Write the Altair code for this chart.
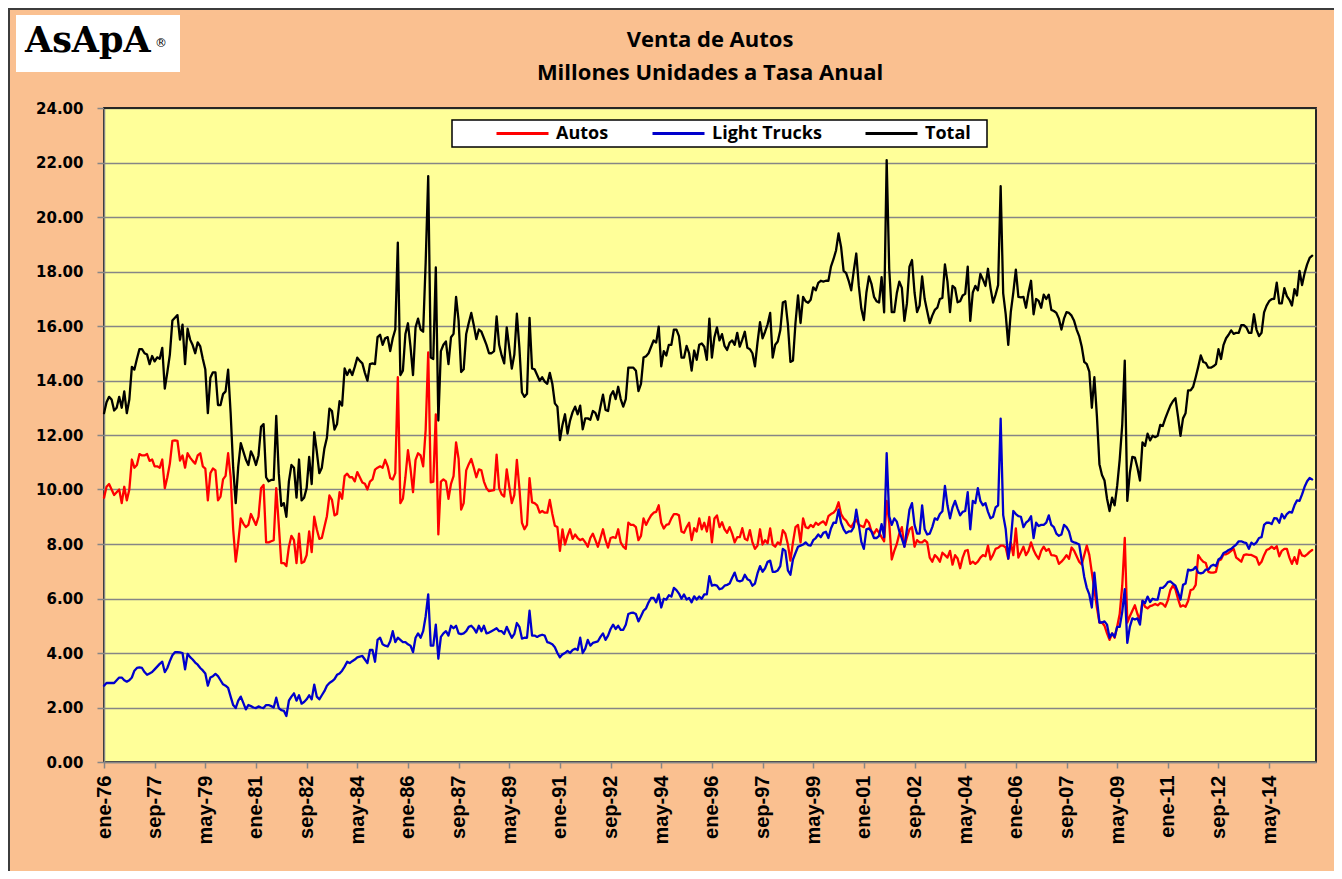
import altair as alt
import pandas as pd

# Monthly data, ene-1976 ... oct-2015 (millones de unidades, tasa anual)
autos = [
    9.7, 10.1, 10.2, 10.0, 9.8, 9.9, 10.0, 9.5, 10.1, 9.6, 10.0, 11.1,            # 1976
    10.8, 10.9, 11.3, 11.25, 11.25, 11.3, 11.05, 11.1, 10.85, 10.85, 10.8, 11.1,  # 1977
    10.05, 10.45, 10.95, 11.78, 11.8, 11.78, 11.06, 11.25, 10.8, 11.33, 11.17, 11.05,  # 1978
    10.95, 11.25, 11.33, 10.85, 10.77, 9.6, 10.6, 10.77, 10.7, 9.6, 9.74, 10.37,  # 1979
    10.5, 11.33, 10.45, 8.54, 7.35, 8.06, 8.94, 8.75, 8.62, 8.7, 9.1, 8.9,        # 1980
    8.7, 9.0, 10.05, 10.17, 8.06, 8.06, 8.1, 8.14, 10.05, 8.7, 7.3, 7.3,          # 1981
    7.19, 7.9, 8.3, 8.14, 7.3, 8.38, 7.3, 7.35, 7.59, 8.46, 7.7, 9.0,             # 1982
    8.54, 8.19, 8.22, 8.62, 9.02, 9.78, 9.62, 9.05, 9.1, 9.9, 9.66, 10.49,        # 1983
    10.58, 10.45, 10.45, 10.3, 10.64, 10.45, 10.26, 10.21, 10.0, 10.29, 10.37, 10.73,  # 1984
    10.8, 10.85, 10.8, 11.09, 10.85, 10.42, 10.37, 10.6, 14.12, 9.5, 9.66, 10.45,  # 1985
    11.44, 10.77, 9.9, 11.09, 11.33, 11.25, 10.85, 12.2, 15.03, 10.26, 10.29, 12.76,  # 1986
    8.35, 10.29, 10.37, 10.3, 9.66, 10.21, 10.49, 11.73, 11.12, 9.26, 9.5, 10.7,  # 1987
    10.93, 11.12, 10.8, 10.45, 10.74, 10.7, 10.29, 10.05, 9.94, 9.96, 9.98, 11.28,  # 1988
    10.05, 9.82, 9.74, 10.74, 10.1, 9.5, 9.8, 11.09, 10.05, 8.78, 8.54, 8.7,      # 1989
    10.42, 9.53, 9.5, 9.42, 9.15, 9.21, 9.15, 9.15, 9.62, 9.1, 8.67, 8.62,        # 1990
    7.75, 8.54, 7.98, 8.3, 8.54, 8.19, 8.35, 8.22, 8.14, 8.19, 8.06, 7.9,         # 1991
    8.22, 8.38, 8.14, 7.9, 8.22, 8.54, 8.14, 7.87, 8.22, 8.25, 8.22, 8.54,        # 1992
    8.06, 7.9, 7.82, 8.78, 8.7, 8.7, 8.62, 8.14, 8.3, 8.94, 8.7, 8.89,           # 1993
    9.05, 9.15, 9.18, 9.42, 8.78, 8.57, 8.7, 8.73, 8.94, 9.1, 9.1, 9.05,          # 1994
    8.46, 8.41, 8.62, 8.78, 8.14, 8.58, 8.46, 8.94, 8.54, 8.78, 8.46, 8.99,       # 1995
    8.06, 8.94, 9.05, 8.62, 8.8, 8.54, 8.41, 8.62, 8.38, 8.06, 8.25, 8.25,        # 1996
    8.58, 8.19, 8.14, 8.51, 8.06, 7.82, 7.94, 8.54, 7.98, 8.14, 8.03, 8.57,       # 1997
    7.98, 7.9, 8.06, 7.98, 8.51, 8.38, 7.98, 7.39, 8.06, 8.62, 8.7, 8.06,         # 1998
    8.94, 8.62, 8.58, 8.7, 8.62, 8.78, 8.7, 8.78, 8.83, 8.7, 9.02, 9.1,           # 1999
    9.15, 9.26, 9.53, 9.1, 8.94, 8.86, 8.7, 8.62, 8.78, 8.89, 8.7, 8.66,          # 2000
    8.62, 8.89, 8.78, 8.46, 8.38, 8.54, 8.41, 8.25, 8.1, 9.58, 8.78, 7.43,        # 2001
    7.75, 8.0, 8.38, 8.62, 7.9, 8.25, 8.54, 8.62, 7.9, 8.14, 8.06, 8.06,          # 2002
    8.14, 8.06, 7.5, 7.35, 7.59, 7.5, 7.35, 7.68, 7.59, 7.5, 7.75, 7.24,          # 2003
    7.59, 7.47, 7.11, 7.5, 7.75, 7.78, 7.27, 7.35, 7.27, 7.35, 7.5, 7.59,         # 2004
    7.55, 7.94, 7.43, 7.6, 7.82, 7.86, 7.94, 7.94, 7.87, 7.46, 8.06, 7.59,        # 2005
    8.57, 7.5, 7.7, 7.9, 7.59, 7.75, 8.06, 7.78, 7.59, 7.45, 7.75, 7.9,           # 2006
    7.75, 7.82, 7.59, 7.58, 7.55, 7.27, 7.35, 7.46, 7.59, 7.46, 7.87, 7.75,       # 2007
    7.55, 7.35, 7.25, 7.59, 7.94, 7.6, 6.95, 6.31, 5.67, 5.12, 5.12, 5.0,         # 2008
    4.72, 4.48, 4.72, 4.56, 4.96, 5.43, 6.47, 8.22, 5.12, 5.35, 5.55, 5.75,       # 2009
    5.43, 5.2, 5.91, 5.7, 5.64, 5.72, 5.75, 5.8, 5.75, 5.83, 5.8, 5.7,            # 2010
    5.93, 6.31, 6.47, 6.34, 5.99, 5.7, 5.75, 5.7, 5.91, 6.31, 6.34, 6.5,          # 2011
    7.59, 7.45, 7.35, 7.3, 6.98, 6.95, 6.95, 6.98, 7.39, 7.43, 7.62, 7.62,        # 2012
    7.67, 7.75, 7.82, 7.5, 7.43, 7.35, 7.59, 7.62, 7.6, 7.6, 7.55, 7.5,           # 2013
    7.24, 7.35, 7.59, 7.78, 7.82, 7.9, 7.82, 7.92, 7.55, 7.75, 7.82, 7.82,        # 2014
    7.5, 7.27, 7.52, 7.27, 7.78, 7.58, 7.55, 7.62, 7.71, 7.78,                    # 2015
]

light_trucks = [
    2.8, 2.9, 2.9, 2.9, 2.9, 3.0, 3.1, 3.1, 3.0, 2.95, 3.0, 3.1,                  # 1976
    3.35, 3.45, 3.47, 3.45, 3.3, 3.2, 3.25, 3.3, 3.4, 3.5, 3.6, 3.68,             # 1977
    3.3, 3.45, 3.7, 3.92, 4.03, 4.03, 4.02, 4.0, 3.4, 3.97, 3.85, 3.76,           # 1978
    3.65, 3.57, 3.45, 3.36, 3.25, 2.8, 3.1, 3.15, 3.23, 3.15, 3.0, 2.85,          # 1979
    2.8, 2.72, 2.4, 2.09, 1.98, 2.25, 2.4, 2.17, 1.93, 2.09, 2.05, 2.0,           # 1980
    1.98, 2.04, 2.0, 1.98, 2.09, 2.09, 2.05, 2.0, 2.36, 1.98, 1.9, 1.88,          # 1981
    1.69, 2.25, 2.4, 2.52, 2.25, 2.45, 2.14, 2.2, 2.3, 2.45, 2.3, 2.84,           # 1982
    2.4, 2.3, 2.45, 2.6, 2.8, 2.9, 2.96, 3.04, 3.2, 3.25, 3.35, 3.5,              # 1983
    3.68, 3.63, 3.7, 3.76, 3.84, 3.87, 3.89, 3.76, 3.63, 4.11, 4.11, 3.68,        # 1984
    4.48, 4.56, 4.32, 4.27, 4.24, 4.43, 4.8, 4.4, 4.56, 4.48, 4.4, 4.4,           # 1985
    4.32, 4.27, 4.03, 4.56, 4.72, 4.56, 4.8, 5.35, 6.15, 4.27, 4.27, 5.04,        # 1986
    3.79, 4.59, 4.72, 4.8, 4.64, 5.0, 4.91, 5.0, 4.72, 4.69, 4.72, 4.8,           # 1987
    4.96, 5.0, 4.9, 4.75, 5.0, 4.8, 5.0, 4.72, 4.75, 4.8, 4.85, 4.91,             # 1988
    4.8, 4.8, 4.7, 4.96, 4.75, 4.56, 4.7, 5.1, 4.96, 4.53, 4.56, 4.56,            # 1989
    5.55, 4.64, 4.64, 4.59, 4.64, 4.67, 4.64, 4.4, 4.37, 4.32, 4.21, 4.0,         # 1990
    3.84, 3.95, 4.0, 4.08, 4.0, 4.11, 4.16, 4.11, 4.56, 4.0, 4.16, 4.48,          # 1991
    4.27, 4.37, 4.4, 4.43, 4.59, 4.72, 4.48, 4.64, 4.88, 5.04, 4.88, 5.0,         # 1992
    4.85, 4.85, 5.04, 5.43, 5.47, 5.48, 5.43, 5.16, 5.35, 5.55, 5.64, 5.86,       # 1993
    6.02, 6.02, 5.86, 6.15, 5.67, 5.99, 5.96, 6.12, 6.07, 6.39, 6.31, 6.18,       # 1994
    5.99, 6.15, 5.96, 6.02, 5.86, 6.08, 5.96, 6.07, 5.99, 6.15, 6.15, 6.82,       # 1995
    6.47, 6.5, 6.47, 6.34, 6.37, 6.47, 6.5, 6.55, 6.76, 6.95, 6.66, 6.63,         # 1996
    6.66, 6.87, 6.71, 6.66, 6.47, 6.55, 6.92, 7.19, 6.98, 7.11, 7.35, 7.39,       # 1997
    6.98, 6.98, 7.03, 7.19, 7.82, 7.75, 7.03, 6.87, 7.43, 7.67, 7.9, 7.94,        # 1998
    7.98, 8.06, 7.96, 7.94, 8.14, 8.22, 8.35, 8.25, 8.41, 8.45, 8.22, 8.57,       # 1999
    8.78, 8.78, 9.26, 8.78, 8.54, 8.4, 8.46, 8.46, 8.62, 9.26, 8.7, 8.08,         # 2000
    7.82, 8.54, 8.57, 8.46, 8.22, 8.22, 8.3, 8.73, 8.25, 11.33, 9.02, 8.7,        # 2001
    8.94, 8.82, 8.46, 8.2, 7.9, 8.54, 9.26, 9.5, 8.7, 8.38, 8.38, 9.42,           # 2002
    8.54, 8.35, 8.38, 8.62, 8.94, 8.89, 9.1, 9.2, 10.13, 9.42, 8.94, 9.34,        # 2003
    9.58, 9.3, 9.05, 9.18, 9.21, 9.9, 8.54, 9.58, 9.5, 10.05, 9.58, 9.42,         # 2004
    9.5, 9.18, 8.94, 9.0, 9.34, 9.42, 12.6, 9.06, 8.54, 7.46, 8.14, 9.21,         # 2005
    9.1, 9.02, 9.0, 8.62, 8.78, 8.86, 9.02, 8.22, 8.78, 8.66, 8.7, 8.7,           # 2006
    8.78, 9.05, 8.7, 8.62, 8.38, 8.3, 8.35, 8.7, 8.62, 8.46, 8.1, 8.06,           # 2007
    8.03, 7.98, 7.4, 6.79, 6.39, 6.15, 5.67, 6.95, 5.99, 5.12, 5.12, 5.16,        # 2008
    5.04, 4.56, 4.72, 4.59, 4.96, 4.96, 5.51, 6.34, 4.37, 4.96, 5.27, 5.23,       # 2009
    5.27, 5.04, 5.91, 5.83, 6.07, 5.87, 5.99, 5.96, 5.96, 6.39, 6.39, 6.47,       # 2010
    6.6, 6.63, 6.55, 6.47, 6.23, 5.96, 6.5, 6.55, 7.06, 7.03, 7.06, 7.16,         # 2011
    6.95, 6.92, 6.95, 7.06, 7.06, 7.19, 7.24, 7.19, 7.43, 7.5, 7.67, 7.71,        # 2012
    7.78, 7.82, 7.9, 7.98, 8.1, 8.1, 8.06, 8.03, 7.82, 8.05, 7.98, 8.06,          # 2013
    8.22, 8.25, 8.7, 8.78, 8.78, 8.73, 8.95, 8.94, 8.78, 9.1, 8.94, 9.1,          # 2014
    9.18, 9.15, 9.42, 9.6, 9.58, 9.82, 10.1, 10.3, 10.42, 10.37,                  # 2015
]

total = [
    12.8, 13.2, 13.4, 13.3, 12.9, 13.0, 13.4, 13.0, 13.6, 12.8, 13.3, 14.5,       # 1976
    14.4, 14.8, 15.15, 15.15, 15.0, 14.95, 14.6, 14.9, 14.7, 14.85, 14.8, 15.2,   # 1977
    13.7, 14.3, 14.95, 16.2, 16.3, 16.4, 15.5, 16.05, 14.6, 15.9, 15.5, 15.3,     # 1978
    15.0, 15.4, 15.25, 14.8, 14.4, 12.8, 14.1, 14.3, 14.3, 13.1, 13.1, 13.5,      # 1979
    13.6, 14.4, 12.8, 10.8, 9.5, 10.85, 11.7, 11.4, 11.1, 10.9, 11.4, 11.2,       # 1980
    10.9, 11.25, 12.3, 12.4, 10.45, 10.3, 10.35, 10.35, 12.7, 10.6, 9.4, 9.5,     # 1981
    9.0, 10.3, 10.9, 10.8, 9.7, 11.1, 9.6, 9.7, 10.05, 11.2, 10.2, 12.1,          # 1982
    11.4, 10.6, 10.8, 11.5, 11.9, 12.97, 12.88, 12.2, 12.4, 13.24, 13.08, 14.44,  # 1983
    14.2, 14.4, 14.2, 14.5, 14.84, 14.72, 14.63, 14.28, 13.99, 14.6, 14.63, 14.6,  # 1984
    15.59, 15.68, 15.31, 15.55, 15.59, 15.08, 15.55, 15.87, 19.06, 14.2, 14.36, 15.71,  # 1985
    16.1, 15.24, 14.2, 15.95, 16.27, 15.87, 15.79, 18.34, 21.5, 14.84, 14.79, 18.15,  # 1986
    12.53, 15.08, 15.31, 15.43, 14.6, 15.59, 15.71, 17.07, 16.19, 14.31, 14.41, 15.71,  # 1987
    16.11, 16.48, 16.03, 15.52, 15.87, 15.79, 15.55, 15.31, 15.0, 15.0, 15.08, 16.35,  # 1988
    15.31, 14.92, 14.63, 15.95, 15.2, 14.44, 14.95, 16.45, 15.2, 13.56, 13.4, 13.51,  # 1989
    16.3, 14.44, 14.41, 14.2, 13.99, 14.12, 13.96, 13.88, 14.28, 13.88, 13.16, 13.04,  # 1990
    11.81, 12.37, 12.76, 12.05, 12.53, 12.84, 13.04, 12.76, 13.08, 12.21, 12.61, 12.61,  # 1991
    12.56, 12.88, 12.81, 12.56, 13.04, 13.48, 12.92, 12.88, 13.45, 13.61, 13.32, 13.77,  # 1992
    13.32, 13.04, 13.32, 14.47, 14.47, 14.47, 14.36, 13.61, 13.88, 14.84, 14.89, 15.0,  # 1993
    15.24, 15.47, 15.39, 15.98, 14.52, 15.08, 14.92, 15.31, 15.31, 15.87, 15.87, 15.63,  # 1994
    14.84, 14.84, 15.27, 15.0, 14.36, 15.1, 14.76, 15.31, 15.36, 15.24, 14.76, 16.27,  # 1995
    14.84, 15.59, 15.95, 15.47, 15.7, 15.27, 15.12, 15.39, 15.47, 15.31, 15.75, 15.24,  # 1996
    15.5, 15.79, 15.2, 15.15, 15.0, 14.52, 15.39, 16.14, 15.55, 15.79, 16.06, 16.48,  # 1997
    14.84, 15.31, 15.43, 15.84, 16.86, 16.91, 16.06, 14.68, 14.73, 16.11, 17.12, 16.11,  # 1998
    17.07, 16.91, 16.85, 16.96, 17.42, 17.31, 17.58, 17.66, 17.63, 17.66, 17.66, 18.18,  # 1999
    18.45, 18.77, 19.4, 18.9, 18.02, 17.94, 17.66, 17.31, 18.02, 18.66, 17.47, 16.63,  # 2000
    16.22, 17.23, 17.82, 17.55, 17.07, 16.91, 16.86, 17.79, 16.5, 22.09, 18.1, 16.51,  # 2001
    16.51, 17.2, 17.63, 17.4, 16.19, 16.83, 18.18, 18.42, 17.23, 16.51, 16.75, 17.82,  # 2002
    16.99, 16.54, 16.11, 16.38, 16.59, 16.67, 16.99, 17.03, 18.26, 17.63, 16.51, 17.47,  # 2003
    17.39, 16.87, 16.91, 17.12, 17.18, 18.18, 16.19, 17.23, 17.47, 17.31, 17.91, 17.71,  # 2004
    17.47, 18.1, 17.39, 16.86, 17.15, 17.5, 21.13, 17.2, 16.43, 15.31, 16.51, 17.23,  # 2005
    18.07, 17.07, 17.05, 17.07, 16.67, 17.23, 17.66, 16.43, 16.99, 16.92, 16.67, 17.15,  # 2006
    16.99, 17.15, 16.59, 16.55, 16.48, 16.27, 15.87, 16.27, 16.51, 16.48, 16.38, 16.19,  # 2007
    15.87, 15.63, 15.25, 14.68, 14.6, 14.33, 13.0, 14.12, 12.69, 10.93, 10.53, 10.33,  # 2008
    9.66, 9.21, 9.7, 9.42, 10.13, 11.1, 12.37, 14.73, 9.58, 10.61, 11.2, 11.17,   # 2009
    10.8, 10.33, 11.73, 11.6, 12.05, 11.8, 11.97, 11.92, 11.97, 12.37, 12.33, 12.61,  # 2010
    12.85, 13.08, 13.24, 13.35, 12.69, 11.97, 12.61, 12.8, 13.64, 13.64, 13.77, 14.12,  # 2011
    14.5, 14.92, 14.68, 14.64, 14.47, 14.47, 14.52, 14.6, 15.15, 14.79, 15.31, 15.55,  # 2012
    15.68, 15.84, 15.71, 15.75, 15.75, 16.03, 16.03, 15.95, 15.75, 15.75, 16.43, 15.87,  # 2013
    15.63, 15.75, 16.5, 16.75, 16.91, 16.99, 17.0, 17.59, 16.83, 16.83, 17.39, 17.1,  # 2014
    16.96, 16.75, 17.35, 17.12, 18.02, 17.5, 17.94, 18.26, 18.5, 18.58,           # 2015
]

series_names = ["Autos", "Light Trucks", "Total"]
series_colors = ["#FF0000", "#0000CC", "#000000"]
tick_labels = ["ene-76", "sep-77", "may-79", "ene-81", "sep-82", "may-84", "ene-86",
               "sep-87", "may-89", "ene-91", "sep-92", "may-94", "ene-96", "sep-97",
               "may-99", "ene-01", "sep-02", "may-04", "ene-06", "sep-07", "may-09",
               "ene-11", "sep-12", "may-14"]
tick_step = 20  # months between category labels
title_lines = ["Venta de Autos", "Millones Unidades a Tasa Anual"]
logo_text = "AsApA"
y_ticks = list(range(0, 25, 2))

# ---- build long table
rows = []
for name, vals in zip(series_names, [autos, light_trucks, total]):
    for i, v in enumerate(vals):
        rows.append({"mes": i, "valor": v, "serie": name})
df = pd.DataFrame(rows)

W, H = 1212, 654
PAD_L, PAD_T, PAD_R, PAD_B = 96, 100, 18, 109
tick_values = [i * tick_step for i in range(len(tick_labels))]
label_expr = ("[" + ",".join("'%s'" % s for s in tick_labels) + "]"
              + "[round(datum.value / %d)]" % tick_step)

lines = alt.Chart(df).mark_line(strokeWidth=2.3, strokeJoin="round", strokeCap="round").encode(
    x=alt.X("mes:Q",
            scale=alt.Scale(domain=[0, 478.5], nice=False, zero=False),
            axis=alt.Axis(values=tick_values, labelExpr=label_expr, labelAngle=270,
                          labelAlign="right", labelBaseline="middle",
                          labelFont="Liberation Sans", labelFontSize=20, labelFontWeight="bold",
                          labelColor="black", labelPadding=7, labelOverlap=False,
                          tickColor="#868686", tickSize=6, tickWidth=1.5,
                          domainColor="#868686", domainWidth=1.5, grid=False, title=None)),
    y=alt.Y("valor:Q",
            scale=alt.Scale(domain=[0, 24], nice=False, zero=True),
            axis=alt.Axis(values=y_ticks, format=".2f",
                          labelFont="DejaVu Sans", labelFontSize=15, labelFontWeight="bold",
                          labelColor="black", labelPadding=14,
                          tickColor="#868686", tickSize=7, tickWidth=1.5,
                          domainColor="#868686", domainWidth=1.5,
                          gridColor="#868686", gridWidth=1.5, title=None)),
    color=alt.Color("serie:N",
                    scale=alt.Scale(domain=series_names, range=series_colors),
                    legend=alt.Legend(orient="none", legendX=391, legendY=15.5,
                                      direction="horizontal", title=None,
                                      symbolType="stroke", symbolSize=2704,
                                      symbolStrokeWidth=3, clipHeight=20,
                                      labelFont="Open Sans", labelFontSize=18,
                                      labelFontWeight="bold", labelColor="black",
                                      labelOffset=6, columnPadding=42, padding=0,
                                      symbolOffset=0)),
)

one = pd.DataFrame({"k": [0]})

frame_top = alt.Chart(one).mark_rule(color="#3c3c3c", strokeWidth=2).encode(
    x=alt.value(-PAD_L), x2=alt.value(W + PAD_R), y=alt.value(-PAD_T + 1))
frame_left = alt.Chart(one).mark_rule(color="#3c3c3c", strokeWidth=2).encode(
    x=alt.value(-PAD_L + 1), y=alt.value(-PAD_T), y2=alt.value(H + PAD_B))

logo_box = alt.Chart(one).mark_rect(fill="white").encode(
    x=alt.value(-88), x2=alt.value(76), y=alt.value(-93), y2=alt.value(-36))
logo = alt.Chart(one).mark_text(text=logo_text, font="DejaVu Serif", fontSize=35,
                                fontWeight="bold", align="left", baseline="alphabetic",
                                color="black").encode(x=alt.value(-79), y=alt.value(-56))
logo_reg = alt.Chart(one).mark_text(text="®", font="DejaVu Sans", fontSize=12,
                                    align="left", baseline="alphabetic",
                                    color="black").encode(x=alt.value(51), y=alt.value(-61))

title1 = alt.Chart(one).mark_text(text=title_lines[0], font="Open Sans", fontSize=22,
                                  fontWeight="bold", align="center", baseline="alphabetic",
                                  color="black").encode(x=alt.value(W / 2), y=alt.value(-61))
title2 = alt.Chart(one).mark_text(text=title_lines[1], font="Open Sans", fontSize=22,
                                  fontWeight="bold", align="center", baseline="alphabetic",
                                  color="black").encode(x=alt.value(W / 2), y=alt.value(-28))

legend_box = alt.Chart(one).mark_rect(fill="white", stroke="black", strokeWidth=1.5).encode(
    x=alt.value(348), x2=alt.value(883), y=alt.value(12), y2=alt.value(39))

plot_top = alt.Chart(one).mark_rule(color="#262626", strokeWidth=2).encode(
    x=alt.value(0), x2=alt.value(W), y=alt.value(0))

chart = alt.layer(
    frame_top, frame_left, logo_box, logo, logo_reg, title1, title2,
    legend_box, lines, plot_top
).properties(
    width=W, height=H,
    background="#FAC090",
    padding={"left": PAD_L, "top": PAD_T, "right": PAD_R, "bottom": PAD_B},
    autosize=alt.AutoSizeParams(type="none"),
).configure_view(
    fill="#FFFF99", stroke="#262626", strokeWidth=2
)

chart.save("out.html", embed_options={"renderer": "svg", "actions": False})
